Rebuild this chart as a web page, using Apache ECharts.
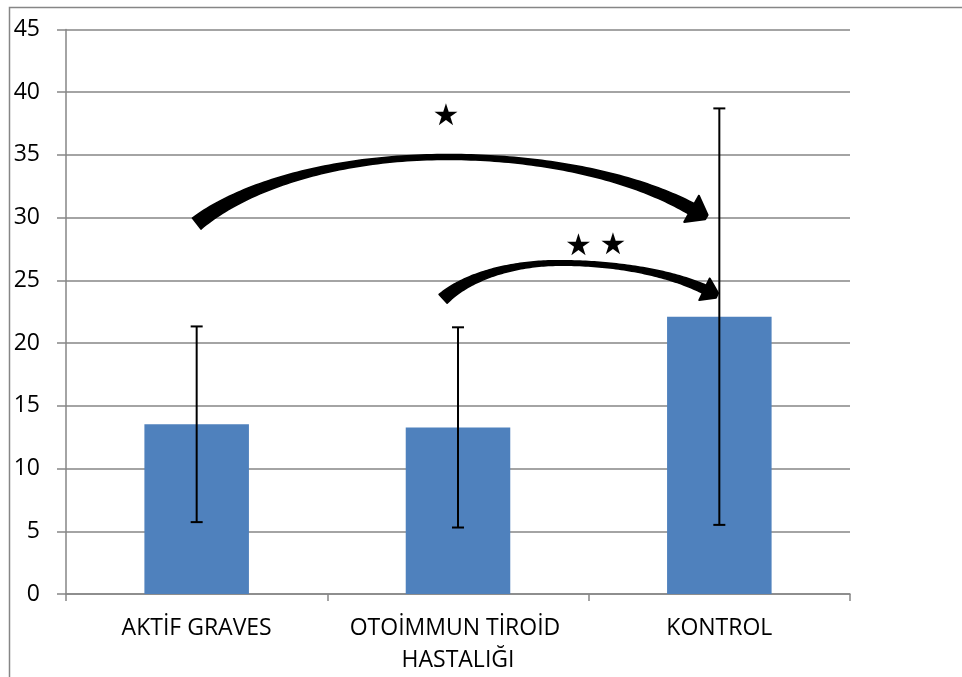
<!DOCTYPE html>
<html><head><meta charset="utf-8">
<script src="https://cdn.jsdelivr.net/npm/echarts@6/dist/echarts.min.js"></script>
<style>html,body{margin:0;padding:0;background:#fff}#c{width:962px;height:677px}</style>
</head><body><div id="c"></div>
<script>
// ---- data ----
const categories = ['AKTİF GRAVES', 'OTOİMMUN TİROİD HASTALIĞI', 'KONTROL'];
const means = [13.53, 13.28, 22.11];
const errors = [7.8, 7.98, 16.6];
const yMin = 0, yMax = 45, yInterval = 5;
// annotation arcs in data units (x in category units, y in values):
// [startX, endX, peakX, peakValue, leftRadiusX, rightRadiusX, radiusValue]
const arrowBigArc = [0.0, 1.907, 0.958, 34.84, 1.110, 1.186, 10.73];
const arrowSmallArc = [0.943, 1.957, 1.390, 26.39, 0.5166, 0.7156, 5.74];
const starMarks = [[0.954, 38.03], [1.461, 27.66], [1.593, 27.74]];
const starText = '★';

// ---- chart ----
const GRAY = '#868686';
const FONT = '"Open Sans", "Noto Sans", sans-serif';
const chart = echarts.init(document.getElementById('c'), null, {renderer: 'canvas'});

const arrows = [
  {arc: arrowBigArc, tail: 14, mid: 5, end: 12, hw: 15, hl: 17},
  {arc: arrowSmallArc, tail: 12, mid: 4.5, end: 9, hw: 12, hl: 14}
];

function arcPoints(arc) {
  const [x0, x1, cx, pv, rxL, rxR, ry] = arc;
  const cv = pv - ry;
  const pts = [];
  const aS = Math.acos(Math.min(1, (cx - x0) / rxL));
  const aE = Math.acos(Math.min(1, (x1 - cx) / rxR));
  const N = 60;
  for (let k = 0; k <= N; k++) {
    const a = aS + (Math.PI / 2 - aS) * k / N;
    pts.push([cx - rxL * Math.cos(a), cv + ry * Math.sin(a)]);
  }
  for (let k = 1; k <= N; k++) {
    const a = Math.PI / 2 - (Math.PI / 2 - aE) * k / N;
    pts.push([cx + rxR * Math.cos(a), cv + ry * Math.sin(a)]);
  }
  return pts;
}

function arrowShape(api, a) {
  const c = arcPoints(a.arc).map(p => api.coord(p));
  const len = [0];
  for (let i = 1; i < c.length; i++) len.push(len[i - 1] + Math.hypot(c[i][0] - c[i - 1][0], c[i][1] - c[i - 1][1]));
  const L = len[len.length - 1];
  const left = [], right = [];
  for (let i = 0; i < c.length; i++) {
    const a0 = c[Math.max(i - 1, 0)], a1 = c[Math.min(i + 1, c.length - 1)];
    let dx = a1[0] - a0[0], dy = a1[1] - a0[1];
    const dl = Math.hypot(dx, dy) || 1; dx /= dl; dy /= dl;
    const s = len[i] / L;
    let w;
    if (s < 0.5) w = a.mid + (a.tail - a.mid) * Math.pow(1 - s / 0.5, 2);
    else w = a.mid + (a.end - a.mid) * Math.pow((s - 0.5) / 0.5, 2);
    const nx = -dy, ny = dx;
    left.push([c[i][0] + nx * w / 2, c[i][1] + ny * w / 2]);
    right.push([c[i][0] - nx * w / 2, c[i][1] - ny * w / 2]);
  }
  const body = left.concat(right.reverse());
  const E = c[c.length - 1], P = c[c.length - 3];
  let dx = E[0] - P[0], dy = E[1] - P[1];
  const dl = Math.hypot(dx, dy); dx /= dl; dy /= dl;
  const nx = -dy, ny = dx;
  const B = [E[0] - dx * 4, E[1] - dy * 4];
  const head = [
    [B[0] + nx * a.hw, B[1] + ny * a.hw],
    [B[0] + nx * 2.5 + dx * a.hl, B[1] + ny * 2.5 + dy * a.hl],
    [B[0] - nx * 2.5 + dx * a.hl, B[1] - ny * 2.5 + dy * a.hl],
    [B[0] - nx * a.hw, B[1] - ny * a.hw]
  ];
  return {
    type: 'group',
    children: [
      {type: 'polygon', shape: {points: body}, style: {fill: '#000', stroke: '#000', lineWidth: 1.5, lineJoin: 'round'}},
      {type: 'polygon', shape: {points: head}, style: {fill: '#000', stroke: '#000', lineWidth: 2, lineJoin: 'round'}}
    ]
  };
}

const option = {
  animation: false,
  backgroundColor: '#fff',
  graphic: [
    {type: 'polyline', shape: {points: [[9.5, 680], [9.5, 7.5], [970, 7.5]]}, style: {stroke: GRAY, lineWidth: 1.5, fill: null}, silent: true}
  ],
  grid: {left: 66, right: 112, top: 29.5, bottom: 83},
  xAxis: [
    {
      type: 'category', data: categories,
      axisLine: {show: true, lineStyle: {color: GRAY, width: 1.5}},
      axisTick: {show: true, length: 7, alignWithLabel: false, lineStyle: {color: GRAY, width: 1.5}},
      axisLabel: {color: '#000', fontSize: 23, fontFamily: FONT, margin: 18, lineHeight: 32, width: 275, overflow: 'break', interval: 0},
      splitLine: {show: false}
    },
    {type: 'value', min: -0.5, max: 2.5, show: false}
  ],
  yAxis: {
    type: 'value', min: yMin, max: yMax, interval: yInterval,
    axisLine: {show: true, onZero: false, lineStyle: {color: GRAY, width: 1.5}},
    axisTick: {show: true, length: 9, lineStyle: {color: GRAY, width: 1.5}},
    axisLabel: {color: '#000', fontSize: 23, fontFamily: FONT, margin: 26},
    splitLine: {show: true, lineStyle: {color: GRAY, width: 1.5}}
  },
  series: [
    {type: 'bar', data: means, barWidth: '40%', itemStyle: {color: '#4F81BD'}, z: 2},
    {
      type: 'custom', z: 4,
      data: means.map((m, i) => [i, m - errors[i], m + errors[i]]),
      renderItem: (params, api) => {
        const lo = api.coord([api.value(0), api.value(1)]);
        const hi = api.coord([api.value(0), api.value(2)]);
        const hw = 6;
        const st = {stroke: '#000', lineWidth: 2};
        return {type: 'group', children: [
          {type: 'line', shape: {x1: lo[0], y1: lo[1], x2: hi[0], y2: hi[1]}, style: st},
          {type: 'line', shape: {x1: hi[0] - hw, y1: hi[1], x2: hi[0] + hw, y2: hi[1]}, style: st},
          {type: 'line', shape: {x1: lo[0] - hw, y1: lo[1], x2: lo[0] + hw, y2: lo[1]}, style: st}
        ]};
      }
    },
    {
      type: 'custom', xAxisIndex: 1, z: 5,
      data: arrows.map((a, i) => [i]),
      renderItem: (params, api) => arrowShape(api, arrows[params.dataIndex])
    },
    {
      type: 'custom', xAxisIndex: 1, z: 5,
      data: starMarks,
      renderItem: (params, api) => {
        const p = api.coord([api.value(0), api.value(1)]);
        return {type: 'text', x: p[0], y: p[1], style: {text: starText, fill: '#000', fontSize: 30, fontFamily: '"DejaVu Sans"', align: 'center', verticalAlign: 'middle'}};
      }
    }
  ]
};
chart.setOption(option);
</script>
</body></html>
